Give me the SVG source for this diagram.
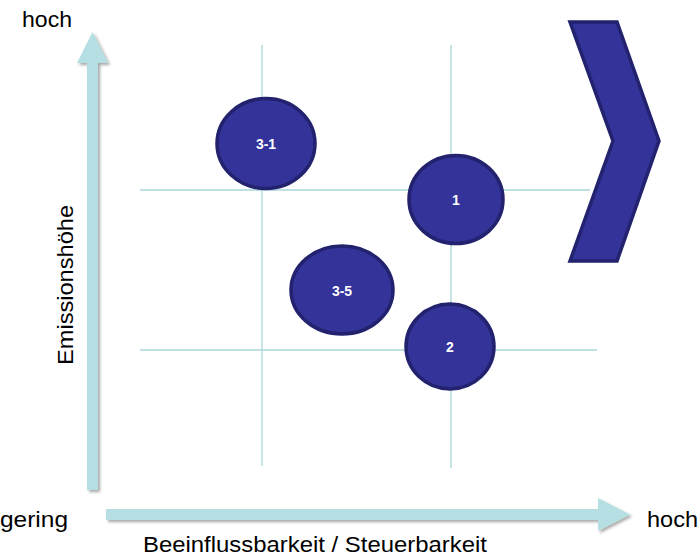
<svg xmlns="http://www.w3.org/2000/svg" width="700" height="556" viewBox="0 0 700 556">
<defs>
<style>
.grid{stroke:#a9d6d8;stroke-width:1.3;fill:none}
.axis{fill:#b5dfe2}
.node{fill:#333399;stroke:#22226e;stroke-width:3.5}
.lbl{font-family:"Liberation Sans",Arial,sans-serif;font-size:14px;font-weight:bold;fill:#ffffff;text-anchor:middle}
.txt{font-family:"Liberation Sans",Arial,sans-serif;font-size:22px;fill:#000000}
</style>
<filter id="sh" x="-20%" y="-20%" width="140%" height="140%">
<feGaussianBlur in="SourceAlpha" stdDeviation="1.5"/>
<feOffset dx="1.5" dy="2" result="b"/>
<feComponentTransfer><feFuncA type="linear" slope="0.35"/></feComponentTransfer>
<feMerge><feMergeNode/><feMergeNode in="SourceGraphic"/></feMerge>
</filter>
</defs>
<rect width="700" height="556" fill="#ffffff"/>
<g id="grid">
<line class="grid" x1="262" y1="45" x2="262" y2="466"/>
<line class="grid" x1="451" y1="45" x2="451" y2="468"/>
<line class="grid" x1="140" y1="190" x2="590" y2="190"/>
<line class="grid" x1="140" y1="350" x2="597" y2="350"/>
</g>
<g id="axes" filter="url(#sh)">
<polygon class="axis" points="87,490 87,63 77,63 92.5,32 108,63 98,63 98,490"/>
<polygon class="axis" points="106,509 598,509 598,498 630,514.5 598,531 598,520 106,520"/>
</g>
<g id="labels">
<text class="txt" x="22" y="27" textLength="50" lengthAdjust="spacingAndGlyphs">hoch</text>
<text class="txt" x="0" y="527" textLength="68" lengthAdjust="spacingAndGlyphs">gering</text>
<text class="txt" x="647" y="527" textLength="51" lengthAdjust="spacingAndGlyphs">hoch</text>
<text class="txt" x="143" y="552" textLength="344" lengthAdjust="spacingAndGlyphs">Beeinflussbarkeit / Steuerbarkeit</text>
<text class="txt" transform="translate(73,365) rotate(-90)" x="0" y="0" textLength="160" lengthAdjust="spacingAndGlyphs">Emissionshöhe</text>
</g>
<g id="chevron">
<polygon class="node" stroke-width="4" points="570,22 617,22 659,141 617,261 570,261 613,141"/>
</g>
<g id="node-3-1">
<ellipse class="node" cx="266" cy="143.5" rx="49" ry="45"/>
<text class="lbl" x="266" y="149">3-1</text>
</g>
<g id="node-1">
<ellipse class="node" cx="456" cy="199.5" rx="47" ry="44"/>
<text class="lbl" x="456" y="205">1</text>
</g>
<g id="node-3-5">
<ellipse class="node" cx="342" cy="290" rx="51" ry="44"/>
<text class="lbl" x="342" y="296">3-5</text>
</g>
<g id="node-2">
<ellipse class="node" cx="450" cy="346.5" rx="44" ry="42.5"/>
<text class="lbl" x="450" y="352">2</text>
</g>
</svg>
